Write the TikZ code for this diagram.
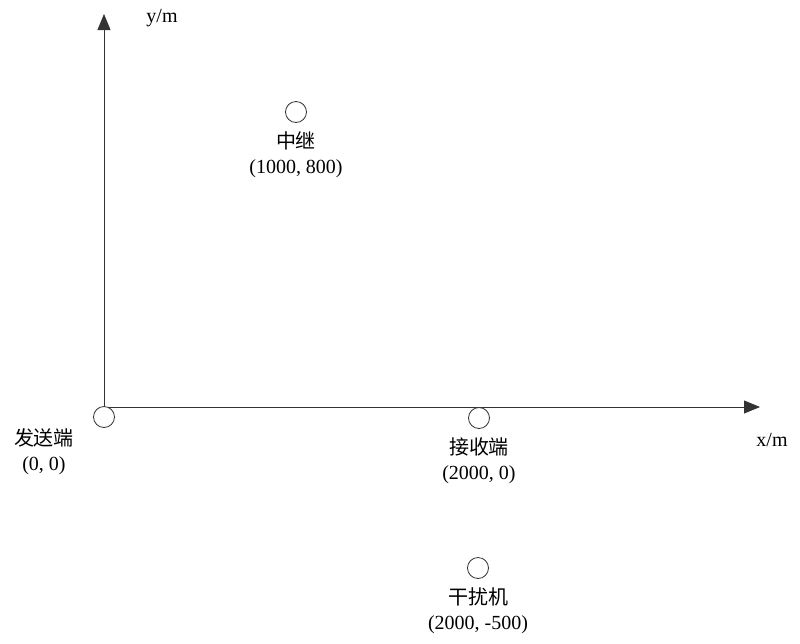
\documentclass[tikz,border=0pt]{standalone}
\usepackage{fontspec}
\setmainfont{Liberation Serif}
\newfontfamily\cjk{Noto Sans CJK SC}
\usetikzlibrary{positioning, arrows.meta}

\begin{document}
\begin{tikzpicture}[
        x=0.5pt, y=-0.5pt,
        node distance=4pt,
        station/.style={circle, draw=black!80, fill=white, minimum size=10.5pt, inner sep=0pt},
        tag/.style={align=center, inner sep=0pt, font=\fontsize{10}{12.5}\selectfont},
        axis/.style={-{Triangle[length=8pt,width=6.5pt]}, draw=black!80}
      ]
        \useasboundingbox (0,0) rectangle (800,644);
        \coordinate (origin) at (104,407);
        \coordinate (xtip) at (760,407);
        \coordinate (ytip) at (104,14);

        \draw[axis] (origin) -- (xtip);
        \draw[axis] (origin) -- (ytip);
        \node[tag] (ylabel) at (162,18) {y/m};
        \node[tag] (xlabel) at (772,440) {x/m};

        \node[station] (sender) at (104,417) {};
        \node[station] (relay) at (296,112) {};
        \node[station] (receiver) at (479,418) {};
        \node[station] (jammer) at (478,568) {};

        \node[tag] (sendertag) at (44,452) {{\cjk 发送端}\\(0,\ 0)};
        \node[tag, below=of relay] (relaytag) {{\cjk 中继}\\(1000,\ 800)};
        \node[tag, below=of receiver] (receivertag) {{\cjk 接收端}\\(2000,\ 0)};
        \node[tag, below=of jammer] (jammertag) {{\cjk 干扰机}\\(2000,\ -500)};
      \end{tikzpicture}
\end{document}
